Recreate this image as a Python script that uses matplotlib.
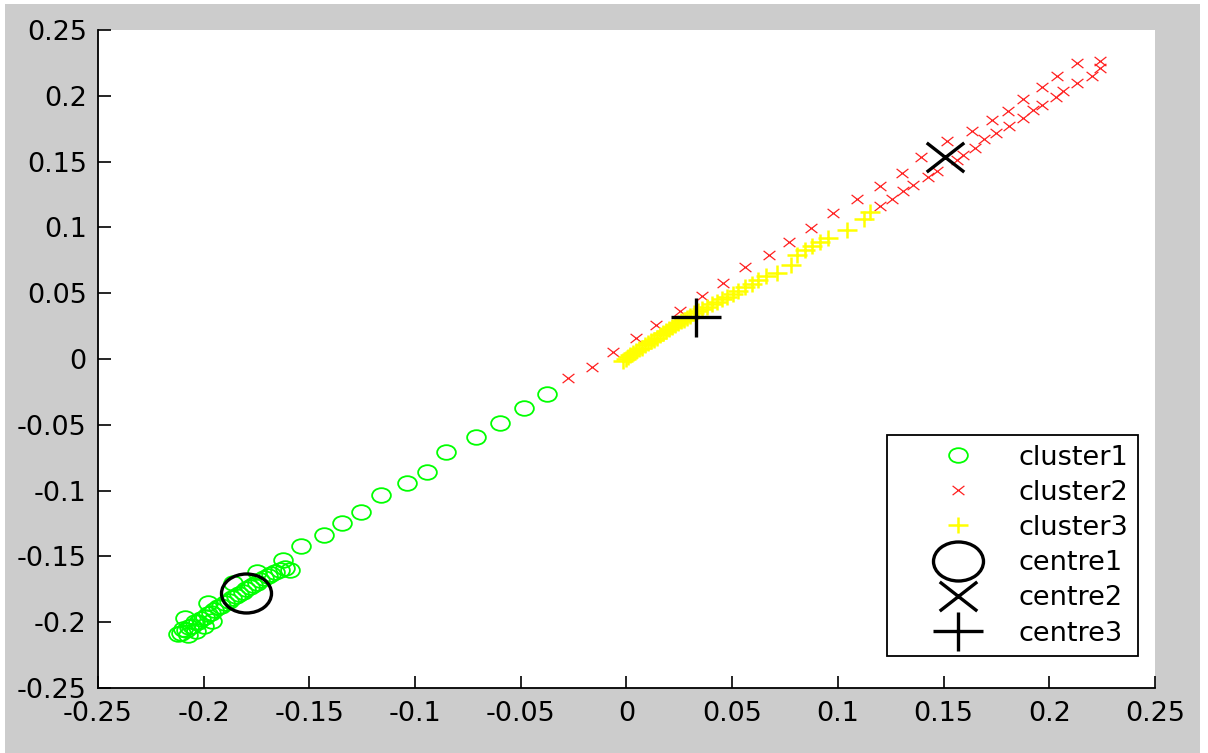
import matplotlib
matplotlib.use("Agg")
import matplotlib.pyplot as plt
from matplotlib.path import Path
from matplotlib.transforms import Affine2D
from matplotlib.patches import Rectangle

plt.rcParams['axes.unicode_minus'] = False
plt.rcParams['font.family'] = ['DejaVu Sans']

# ---------------- data ----------------
cluster1_x = [-0.0377, -0.0483, -0.0598, -0.0713, -0.0854, -0.0945, -0.1037, -0.1163,
              -0.1257, -0.1346, -0.1430, -0.1541, -0.1626, -0.1749, -0.1860, -0.1978, -0.2088,
              -0.2122, -0.2107, -0.2098, -0.2084, -0.2070, -0.2056, -0.2041, -0.2027, -0.2013,
              -0.1994, -0.1980, -0.1966, -0.1951, -0.1932, -0.1918, -0.1899, -0.1880, -0.1866,
              -0.1847, -0.1833, -0.1814, -0.1800, -0.1781, -0.1767, -0.1748, -0.1734, -0.1715,
              -0.1696, -0.1682, -0.1663, -0.1639, -0.1616, -0.1592,
              -0.2074, -0.2036, -0.1999, -0.1961]
cluster1_y = [-0.0268, -0.0370, -0.0489, -0.0595, -0.0709, -0.0856, -0.0940, -0.1031,
              -0.1163, -0.1248, -0.1335, -0.1423, -0.1527, -0.1616, -0.1700, -0.1856, -0.1970,
              -0.2090, -0.2082, -0.2052, -0.2059, -0.2036, -0.2029, -0.1998, -0.1998, -0.1976,
              -0.1960, -0.1938, -0.1930, -0.1907, -0.1884, -0.1877, -0.1854, -0.1839, -0.1816,
              -0.1801, -0.1786, -0.1771, -0.1748, -0.1733, -0.1717, -0.1702, -0.1679, -0.1664,
              -0.1649, -0.1634, -0.1619, -0.1603, -0.1588, -0.1603,
              -0.2097, -0.2067, -0.2029, -0.1991]

cluster2_x = [-0.0275, -0.0165, -0.0066, 0.0043, 0.0139, 0.0251, 0.0356, 0.0458, 0.0561,
              0.0676, 0.0769, 0.0873, 0.0977, 0.1089, 0.1199, 0.1302, 0.1391, 0.1516,
              0.1633, 0.1727, 0.1806, 0.1874, 0.1966, 0.2036, 0.2130, 0.2242,
              0.1199, 0.1255, 0.1309, 0.1357, 0.1428, 0.1471, 0.1562, 0.1593, 0.1649,
              0.1691, 0.1746, 0.1809, 0.1874, 0.1924, 0.1964, 0.2032, 0.2066, 0.2130,
              0.2200, 0.2240]
cluster2_y = [-0.0147, -0.0063, 0.0056, 0.0160, 0.0262, 0.0366, 0.0481, 0.0581, 0.0701,
              0.0787, 0.0889, 0.0993, 0.1109, 0.1214, 0.1315, 0.1410, 0.1537, 0.1655,
              0.1736, 0.1816, 0.1888, 0.1973, 0.2065, 0.2154, 0.2249, 0.2264,
              0.1163, 0.1212, 0.1273, 0.1320, 0.1381, 0.1432, 0.1512, 0.1549, 0.1601,
              0.1672, 0.1714, 0.1768, 0.1828, 0.1892, 0.1930, 0.1991, 0.2037, 0.2095,
              0.2147, 0.2209]

cluster3_x = [-0.0017, -0.0002, 0.0007, 0.0017, 0.0031, 0.0045, 0.0059, 0.0073, 0.0088,
              0.0102, 0.0116, 0.0130, 0.0144, 0.0159, 0.0173, 0.0187, 0.0201, 0.0215,
              0.0229, 0.0244, 0.0258, 0.0272, 0.0286, 0.0300, 0.0319, 0.0338, 0.0357,
              0.0381, 0.0404, 0.0428, 0.0452, 0.0475, 0.0504, 0.0527, 0.0561, 0.0594,
              0.0622, 0.0660, 0.0712, 0.0778, 0.0807, 0.0844, 0.0878, 0.0915, 0.0953,
              0.1043, 0.1124, 0.1152]
cluster3_y = [-0.0015, 0.0000, 0.0015, 0.0030, 0.0042, 0.0061, 0.0076, 0.0087, 0.0106,
              0.0122, 0.0133, 0.0148, 0.0163, 0.0182, 0.0198, 0.0213, 0.0228, 0.0243,
              0.0258, 0.0270, 0.0285, 0.0296, 0.0312, 0.0327, 0.0350, 0.0365, 0.0380,
              0.0395, 0.0418, 0.0433, 0.0456, 0.0471, 0.0494, 0.0517, 0.0547, 0.0570,
              0.0600, 0.0627, 0.0657, 0.0714, 0.0790, 0.0828, 0.0855, 0.0889, 0.0923,
              0.0980, 0.1064, 0.1117]

centre_x = [-0.1799, 0.1507, 0.0329]
centre_y = [-0.1780, 0.1537, 0.0321]

series_labels = ['cluster1', 'cluster2', 'cluster3', 'centre1', 'centre2', 'centre3']
tick_values = [-0.25, -0.2, -0.15, -0.1, -0.05, 0, 0.05, 0.1, 0.15, 0.2, 0.25]
tick_labels = ['-0.25', '-0.2', '-0.15', '-0.1', '-0.05', '0', '0.05', '0.1', '0.15', '0.2', '0.25']

# ---------------- stretched markers (reference is horizontally stretched) ----------------
ASP = 0.78
ell = Path.unit_circle().transformed(Affine2D().scale(1.0, ASP))
xmark = Path([(-1, -ASP), (1, ASP), (-1, ASP), (1, -ASP)],
             [Path.MOVETO, Path.LINETO, Path.MOVETO, Path.LINETO])
pmark = Path([(-1, 0), (1, 0), (0, -ASP), (0, ASP)],
             [Path.MOVETO, Path.LINETO, Path.MOVETO, Path.LINETO])

FS = 19.5

fig = plt.figure(figsize=(12.08, 7.53), dpi=100, facecolor='white')
fig.patches.append(Rectangle((5 / 1208, 0), 1195 / 1208, 749 / 753,
                             transform=fig.transFigure, facecolor='#cccccc',
                             edgecolor='none', zorder=-10))
ax = fig.add_axes([0.0811, 0.0863, 0.875, 0.8739])
ax.set_facecolor('white')

ax.plot(cluster1_x, cluster1_y, linestyle='none', marker=ell, markersize=13.5,
        mfc='none', mec='#00ff00', mew=1.3, label=series_labels[0])
ax.plot(cluster2_x, cluster2_y, linestyle='none', marker=xmark, markersize=8.5,
        mfc='none', mec='#ff2020', mew=0.9, label=series_labels[1])
ax.plot(cluster3_x, cluster3_y, linestyle='none', marker=pmark, markersize=15,
        mfc='none', mec='#ffff00', mew=1.8, label=series_labels[2])
ax.plot(centre_x[0], centre_y[0], linestyle='none', marker=ell, markersize=36,
        mfc='none', mec='black', mew=2.4, label=series_labels[3])
ax.plot(centre_x[1], centre_y[1], linestyle='none', marker=xmark, markersize=27,
        mfc='none', mec='black', mew=2.4, label=series_labels[4])
ax.plot(centre_x[2], centre_y[2], linestyle='none', marker=pmark, markersize=36,
        mfc='none', mec='black', mew=2.4, label=series_labels[5])

ax.set_xlim(-0.25, 0.25)
ax.set_ylim(-0.25, 0.25)
ax.set_xticks(tick_values)
ax.set_xticklabels(tick_labels)
ax.set_yticks(tick_values)
ax.set_yticklabels(tick_labels)
ax.tick_params(direction='in', length=9, width=1.2, labelsize=FS, colors='black')
ax.tick_params(axis='y', pad=8)
ax.tick_params(axis='x', pad=9)
for s in ['top', 'right']:
    ax.spines[s].set_visible(False)
for s in ['left', 'bottom']:
    ax.spines[s].set_linewidth(1.3)

leg = ax.legend(loc='lower right', bbox_to_anchor=(0.984, 0.0486), borderaxespad=0,
                fontsize=FS, numpoints=1, handlelength=4.5, handletextpad=0.0,
                borderpad=0.35, labelspacing=0.34, fancybox=False, framealpha=1,
                edgecolor='black')
leg.get_frame().set_linewidth(1.3)

fig.savefig('out.png', dpi=100, facecolor=fig.get_facecolor())
